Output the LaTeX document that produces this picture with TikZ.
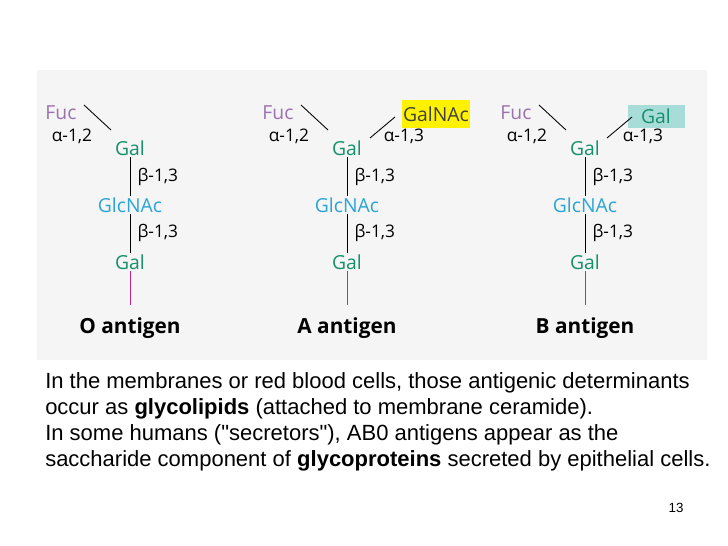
\documentclass[tikz,border=0pt]{standalone}
\usepackage{fontspec}
\setmainfont{Liberation Sans}
\newfontfamily\plainq[Ligatures=ResetAll]{Liberation Sans}
\newfontfamily\sug{Open Sans}
\definecolor{fuc}{HTML}{9B72B0}
\definecolor{gal}{HTML}{15906A}
\definecolor{glc}{HTML}{2AA5D5}
\definecolor{mag}{HTML}{C0288E}
\definecolor{bgray}{HTML}{F5F5F5}
\definecolor{lteal}{HTML}{A8DCD8}
\tikzset{x=0.75pt,y=-0.75pt,
 s/.style={font=\sug\fontsize{14.5}{16}\selectfont,inner sep=1pt},
 lk/.style={font=\sug\fontsize{13}{15}\selectfont,inner sep=1pt,anchor=west},
 al/.style={font=\sug\fontsize{13}{15}\selectfont,inner sep=1pt},
 ttl/.style={font=\sug\bfseries\fontsize{15.6}{18}\selectfont},
 ln/.style={line width=0.65pt},
 para/.style={font=\fontsize{16.5}{19.6}\selectfont,anchor=north west,align=left,inner sep=0pt}}
\begin{document}
\begin{tikzpicture}
\useasboundingbox (0,0) rectangle (728,546);
\fill[bgray] (37,70) rectangle (707,360);
\foreach \o/\n in {0/O,217/A,455/B}{
 \begin{scope}[xshift=\o*0.75pt]
 \node[s,text=fuc] (fuc\n) at (61,113) {Fuc};
 \node[al] (a\n) at (72,136) {α-1,2};
 \node[s,text=gal] (g1\n) at (130,148) {Gal};
 \node[s,text=glc] (glc\n) at (130,205) {GlcNAc};
 \node[s,text=gal] (g2\n) at (130,262) {Gal};
 \node[lk] (b1\n) at (136,177) {β-1,3};
 \node[lk] (b2\n) at (136,233) {β-1,3};
 \node[ttl] (t\n) at (130,328) {\n{} antigen};
 \coordinate (e\n) at (130,305);
 \draw[ln] (84,105) -- (111,130);
 \draw[ln] (g1\n.south) -- (glc\n.north);
 \draw[ln] (glc\n.south) -- (g2\n.north);
 \draw[ln,draw=mag] (g2\n.south) -- (e\n);
 \end{scope}}
\node[s,fill=yellow,text=black!75,minimum height=28*0.75pt,minimum width=68*0.75pt] (gnac) at (436,114) {GalNAc};
\node[al] (a3A) at (404,136) {α-1,3};
\draw[ln] (395,117) -- (370,138);
\node[s,fill=lteal,text=gal,minimum height=23*0.75pt,minimum width=57*0.75pt] (gb) at (656,116) {Gal};
\node[al] (a3B) at (643,136) {α-1,3};
\draw[ln] (632,117) -- (607,138);
\node[para] (p) at (45,372) {In the membranes or red blood cells, those antigenic determinants\\
occur as \textbf{glycolipids} (attached to membrane ceramide).\\
In some humans ({\plainq"}secretors{\plainq"}), AB0 antigens appear as the\\
saccharide component of \textbf{glycoproteins} secreted by epithelial cells.};
\node[font=\fontsize{10}{11}\selectfont] (pg) at (676,508) {13};
\end{tikzpicture}
\end{document}
